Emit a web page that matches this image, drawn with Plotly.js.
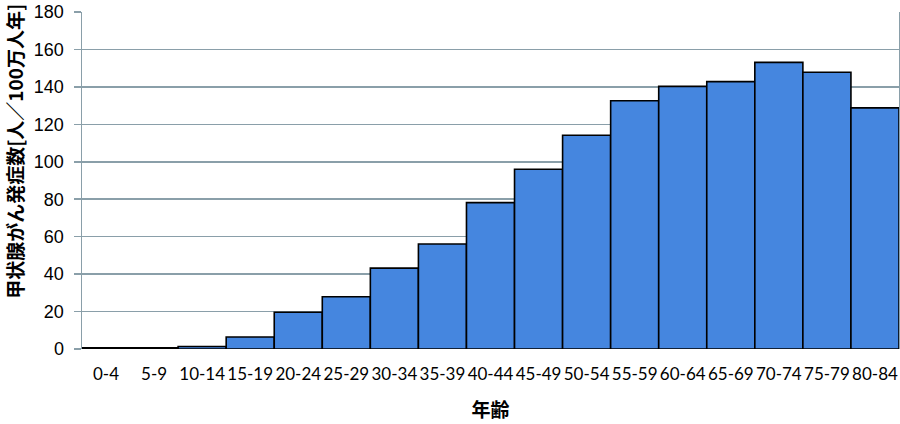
<!DOCTYPE html>
<html>
<head>
<meta charset="utf-8">
<script src="https://cdn.plot.ly/plotly-3.0.1.min.js"></script>
<style>html,body{margin:0;padding:0;background:#fff;}#chart{width:900px;height:424px;}</style>
</head>
<body>
<div id="chart"></div>
<script>
var ageGroups = ["0-4","5-9","10-14","15-19","20-24","25-29","30-34","35-39","40-44","45-49","50-54","55-59","60-64","65-69","70-74","75-79","80-84"];
var incidence = [0.6,0.6,1.3,6.4,19.6,27.9,43.2,56.1,78.2,96.0,114.2,132.6,140.3,142.8,153.1,147.8,128.8];
var yTicks = [0,20,40,60,80,100,120,140,160,180];
var yTitle = "甲状腺がん発症数[人／100万人年]";
var xTitle = "年齢";

var trace = {
  type: "bar",
  x: ageGroups,
  y: incidence,
  marker: {color: "#4586DF", line: {color: "#000000", width: 1.6}},
  hoverinfo: "x+y"
};

var layout = {
  width: 900, height: 424,
  margin: {l: 82, r: 1, t: 12, b: 75},
  paper_bgcolor: "#ffffff", plot_bgcolor: "#ffffff",
  showlegend: false,
  bargap: 0,
  xaxis: {
    type: "category",
    tickfont: {family: "Lato, 'Open Sans', sans-serif", size: 17, color: "#000"},
    ticks: "", showgrid: false, zeroline: false, showline: false,
    ticklabelstandoff: 13,
    title: {text: xTitle, font: {family: "'Noto Sans CJK JP', sans-serif", size: 19, color: "#000", weight: "bold"}, standoff: 20}
  },
  yaxis: {
    range: [0, 180],
    tickvals: yTicks,
    tickfont: {family: "'Liberation Sans Narrow', 'Arial Narrow', 'Liberation Sans', sans-serif", size: 18, color: "#000"},
    ticks: "outside", ticklen: 7, tickcolor: "#8A9FA9", tickwidth: 1.5,
    showgrid: true, gridcolor: "#8A9FA9", gridwidth: 1.5,
    showline: true, linecolor: "#8A9FA9", linewidth: 1.5, mirror: true,
    zeroline: false,
    ticklabelstandoff: 6
  },
  annotations: [{
    text: yTitle, textangle: -90,
    xref: "paper", yref: "paper",
    x: -0.082, y: 0.585, xanchor: "center", yanchor: "middle",
    showarrow: false,
    font: {family: "'Noto Sans CJK JP', sans-serif", size: 19, color: "#000", weight: "bold"}
  }]
};

Plotly.newPlot("chart", [trace], layout, {displayModeBar: false, staticPlot: true});
</script>
</body>
</html>
